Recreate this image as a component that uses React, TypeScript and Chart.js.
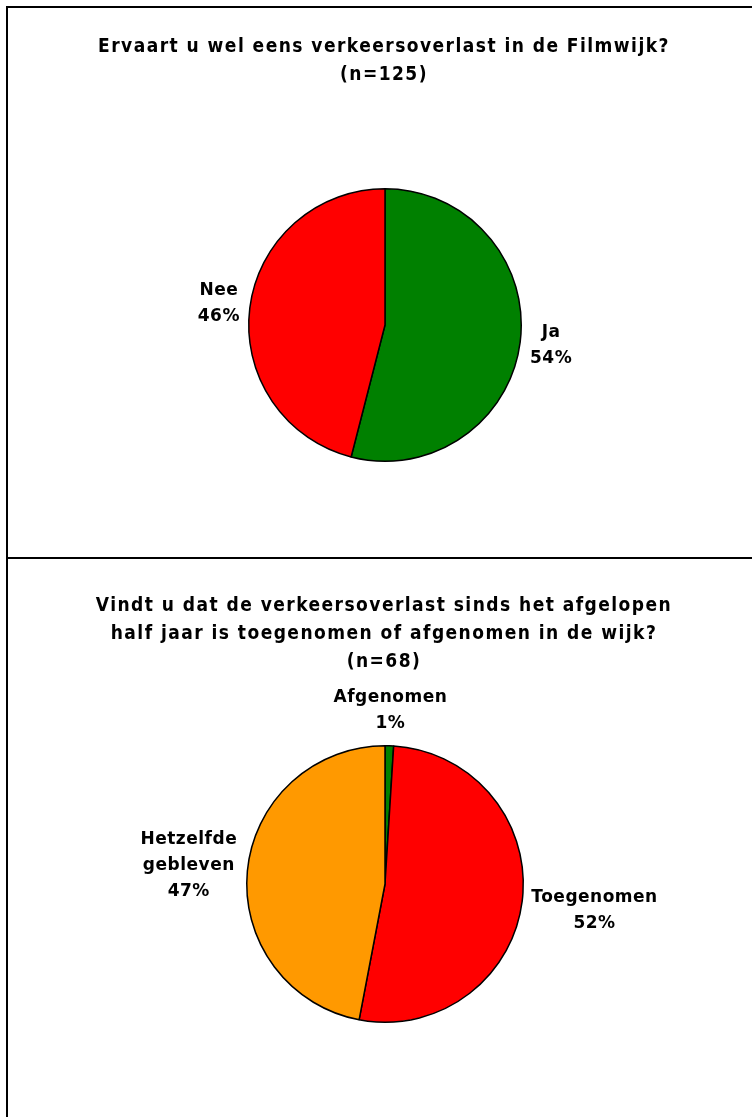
import React, { useEffect, useRef } from "react";
import { Chart, registerables } from "chart.js";

Chart.register(...registerables);

// ---- Data ----
const title1Lines = ["Ervaart u wel eens verkeersoverlast in de Filmwijk?", "(n=125)"];
const pie1Labels = ["Ja", "Nee"];
const pie1Values = [54, 46];
const pie1Colors = ["#008000", "#FF0000"];

const title2Lines = [
  "Vindt u dat de verkeersoverlast sinds het afgelopen",
  "half jaar is toegenomen of afgenomen in de wijk?",
  "(n=68)",
];
const pie2Labels = ["Afgenomen", "Toegenomen", "Hetzelfde\ngebleven"];
const pie2Values = [1, 52, 47];
const pie2Colors = ["#008000", "#FF0000", "#FF9900"];

const TITLE_FONT = 'bold 19px "DejaVu Sans Condensed", "Liberation Sans", sans-serif';
const LABEL_FONT = 'bold 17px "DejaVu Sans", "Liberation Sans", sans-serif';

const titlePlugin = {
  id: "customTitle",
  afterDraw(chart: any, _args: any, opts: any) {
    const ctx = chart.ctx;
    const lines: string[] = opts.lines || [];
    ctx.save();
    ctx.font = TITLE_FONT;
    try { (ctx as any).letterSpacing = opts.letterSpacing || "0px"; } catch (e) {}
    ctx.fillStyle = "#000";
    ctx.textAlign = "center";
    ctx.textBaseline = "middle";
    lines.forEach((l, i) => ctx.fillText(l, opts.x, opts.y + i * opts.lineHeight));
    ctx.restore();
  },
};

const outerLabelPlugin = {
  id: "outerLabels",
  afterDraw(chart: any, _args: any, opts: any) {
    const ctx = chart.ctx;
    const meta = chart.getDatasetMeta(0);
    const data = chart.data.datasets[0].data as number[];
    const labels = chart.data.labels as string[];
    const lh = opts.lineHeight;
    const gap = opts.gap;
    ctx.save();
    ctx.font = LABEL_FONT;
    try { (ctx as any).letterSpacing = opts.letterSpacing || "0px"; } catch (e) {}
    ctx.fillStyle = "#000";
    ctx.textAlign = "center";
    ctx.textBaseline = "middle";
    meta.data.forEach((arc: any, i: number) => {
      const p = arc.getProps(["x", "y", "startAngle", "endAngle", "outerRadius"], true);
      const mid = (p.startAngle + p.endAngle) / 2;
      const cx = Math.cos(mid);
      const sy = Math.sin(mid);
      const lines = String(labels[i]).split("\n").concat([data[i] + "%"]);
      const w = Math.max(...lines.map((l) => ctx.measureText(l).width));
      const h = lines.length * lh;
      const dist = p.outerRadius + gap + Math.abs(cx) * w / 2 + Math.abs(sy) * h / 2;
      const bx = p.x + cx * dist;
      const by = p.y + sy * dist;
      lines.forEach((l, j) => {
        ctx.fillText(l, bx, by - h / 2 + lh / 2 + j * lh);
      });
    });
    ctx.restore();
  },
};

function PieChart(props: {
  labels: string[];
  values: number[];
  colors: string[];
  titleLines: string[];
  titleY: number;
  height: number;
  padding: { left: number; right: number; top: number; bottom: number };
}) {
  const ref = useRef<HTMLCanvasElement | null>(null);
  useEffect(() => {
    if (!ref.current) return;
    const chart = new Chart(ref.current, {
      type: "pie",
      data: {
        labels: props.labels,
        datasets: [
          {
            data: props.values,
            backgroundColor: props.colors,
            borderColor: "#000",
            borderWidth: 1.5,
          },
        ],
      },
      options: {
        responsive: false,
        animation: false,
        layout: { padding: props.padding },
        plugins: {
          legend: { display: false },
          title: { display: false },
          tooltip: { enabled: false },
          customTitle: { lines: props.titleLines, x: 384, y: props.titleY, lineHeight: 28, letterSpacing: "1.45px" },
          outerLabels: { lineHeight: 26, gap: 7, letterSpacing: "0.5px" },
        } as any,
      },
      plugins: [titlePlugin, outerLabelPlugin],
    });
    return () => chart.destroy();
  }, []);
  return <canvas ref={ref} width={752} height={props.height} style={{ display: "block", width: 752, height: props.height }} />;
}

export default function App() {
  return (
    <div style={{ position: "absolute", left: 0, top: 0, width: 752, height: 1117, background: "#fff", overflow: "hidden" }}>
      <div style={{ position: "absolute", left: 0, top: 0 }}>
        <PieChart
          labels={pie1Labels}
          values={pie1Values}
          colors={pie1Colors}
          titleLines={title1Lines}
          titleY={47}
          height={557}
          padding={{ left: 248, right: 230, top: 188, bottom: 95 }}
        />
      </div>
      <div style={{ position: "absolute", left: 0, top: 557 }}>
        <PieChart
          labels={pie2Labels}
          values={pie2Values}
          colors={pie2Colors}
          titleLines={title2Lines}
          titleY={49}
          height={560}
          padding={{ left: 246, right: 228, top: 188, bottom: 94 }}
        />
      </div>
      {/* frame lines */}
      <div style={{ position: "absolute", left: 6, top: 6, width: 2, height: 1111, background: "#000" }} />
      <div style={{ position: "absolute", left: 6, top: 6, width: 746, height: 2, background: "#000" }} />
      <div style={{ position: "absolute", left: 6, top: 557, width: 746, height: 2, background: "#000" }} />
    </div>
  );
}
